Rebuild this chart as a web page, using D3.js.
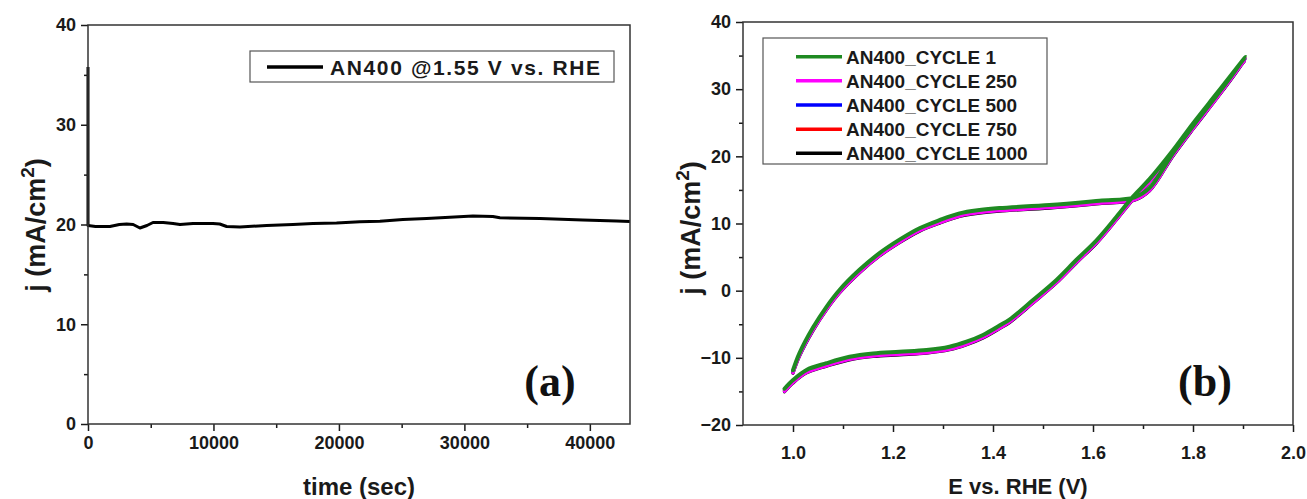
<!DOCTYPE html>
<html><head><meta charset="utf-8">
<script src="https://cdn.jsdelivr.net/npm/d3@7"></script>
<style>
body{margin:0;background:#fff;}
svg{display:block;}
</style>
</head><body>
<svg id="c" width="1307" height="499" font-family="Liberation Sans, Arial, sans-serif"></svg>
<script>
// ---------- Panel (a): chronoamperometry ----------
const stabilityTime = [0, 0, 600, 1750, 2500, 3080, 3600, 4140, 4700, 5180, 6000, 6780, 7330, 8370, 9960, 10500, 11050, 12110, 14240, 16340, 17930, 19810, 21670, 23270, 25100, 26990, 28840, 30680, 32270, 32830, 36020, 39440, 42130, 43200];
const stabilityJ = [35.8, 19.9, 19.8, 19.8, 20.0, 20.05, 20.0, 19.65, 19.9, 20.2, 20.2, 20.1, 20.0, 20.1, 20.1, 20.05, 19.8, 19.75, 19.9, 20.0, 20.1, 20.15, 20.27, 20.33, 20.5, 20.6, 20.73, 20.85, 20.8, 20.67, 20.6, 20.45, 20.35, 20.3];
const stabilityLegend = "AN400 @1.55 V vs. RHE";
const timeTicks = [0, 10000, 20000, 30000, 40000];
const timeMinorTicks = [5000, 15000, 25000, 35000];
const jTicksA = [0, 10, 20, 30, 40];
const jMinorTicksA = [5, 15, 25, 35];

// ---------- Panel (b): cyclic voltammetry ----------
const cvPotential = [0.983, 1.000, 1.027, 1.067, 1.113, 1.160, 1.213, 1.267, 1.313, 1.347, 1.380, 1.413, 1.433, 1.480, 1.527, 1.567, 1.607, 1.647, 1.680, 1.713, 1.760, 1.800, 1.850, 1.905,
  1.850, 1.800, 1.760, 1.713, 1.683, 1.613, 1.513, 1.413, 1.373, 1.333, 1.293, 1.253, 1.213, 1.173, 1.133, 1.093, 1.067, 1.040, 1.013, 1.000];
const cvCycle1 = [-14.6, -13.3, -11.8, -10.8, -9.85, -9.35, -9.1, -8.85, -8.35, -7.6, -6.6, -5.2, -4.3, -1.4, 1.6, 4.6, 7.5, 11.0, 14.0, 16.6, 20.9, 24.9, 29.6, 34.8,
  29.3, 24.5, 20.5, 15.3, 13.9, 13.4, 12.75, 12.3, 12.0, 11.5, 10.5, 9.3, 7.6, 5.6, 3.1, 0.1, -2.4, -5.5, -9.3, -11.85];
const cvCycle250 = [-15.0, -13.7, -12.2, -11.2, -10.25, -9.75, -9.5, -9.25, -8.75, -8.0, -7.0, -5.6, -4.7, -1.8, 1.2, 4.2, 7.1, 10.6, 13.6, 16.2, 20.5, 24.5, 29.2, 34.4,
  28.9, 24.1, 20.1, 14.9, 13.5, 13.0, 12.35, 11.9, 11.6, 11.1, 10.1, 8.9, 7.2, 5.2, 2.7, -0.3, -2.8, -5.9, -9.7, -12.25];
const cvCycle500 = [-14.9, -13.6, -12.1, -11.1, -10.15, -9.65, -9.4, -9.15, -8.65, -7.9, -6.9, -5.5, -4.6, -1.7, 1.3, 4.3, 7.2, 10.7, 13.7, 16.3, 20.6, 24.6, 29.3, 34.5,
  29.0, 24.2, 20.2, 15.0, 13.6, 13.1, 12.45, 12.0, 11.7, 11.2, 10.2, 9.0, 7.3, 5.3, 2.8, -0.2, -2.7, -5.8, -9.6, -12.15];
const cvCycle750 = [-14.85, -13.55, -12.05, -11.05, -10.1, -9.6, -9.35, -9.1, -8.6, -7.85, -6.85, -5.45, -4.55, -1.65, 1.35, 4.35, 7.25, 10.75, 13.75, 16.35, 20.65, 24.65, 29.35, 34.55,
  29.05, 24.25, 20.25, 15.05, 13.65, 13.15, 12.5, 12.05, 11.75, 11.25, 10.25, 9.05, 7.35, 5.35, 2.85, -0.15, -2.65, -5.75, -9.55, -12.1];
const cvCycle1000 = [-15.05, -13.75, -12.25, -11.25, -10.3, -9.8, -9.55, -9.3, -8.8, -8.05, -7.05, -5.65, -4.75, -1.85, 1.15, 4.15, 7.05, 10.55, 13.55, 16.15, 20.45, 24.45, 29.15, 34.35,
  28.85, 24.05, 20.05, 14.85, 13.45, 12.95, 12.3, 11.85, 11.55, 11.05, 10.05, 8.85, 7.15, 5.15, 2.65, -0.35, -2.85, -5.95, -9.75, -12.3];
const cvNames = ["AN400_CYCLE 1", "AN400_CYCLE 250", "AN400_CYCLE 500", "AN400_CYCLE 750", "AN400_CYCLE 1000"];
const cvColors = ["#1f8a22", "#ff00ff", "#0000ff", "#ff0000", "#000000"];
const potentialTicks = [1.0, 1.2, 1.4, 1.6, 1.8, 2.0];
const potentialMinorTicks = [1.1, 1.3, 1.5, 1.7, 1.9];
const jTicksB = [-20, -10, 0, 10, 20, 30, 40];
const jMinorTicksB = [-15, -5, 5, 15, 25, 35];

const svg = d3.select("#c");
const INK = "#1a1a1a";
const SANS = "Liberation Sans, Arial, sans-serif";
const SERIF = "Liberation Serif, Times New Roman, serif";

function axes(g, x, y, xt, xm, yt, ym, xf, yf, xpad) {
  const [x0, x1] = x.range(), [y0, y1] = y.range();
  const bx = g.append("g").attr("transform", `translate(0,${y0})`)
    .call(d3.axisBottom(x).tickValues(xt).tickSize(7).tickPadding(xpad).tickSizeOuter(0).tickFormat(xf));
  const bxm = g.append("g").attr("transform", `translate(0,${y0})`)
    .call(d3.axisBottom(x).tickValues(xm).tickSize(4).tickSizeOuter(0).tickFormat(""));
  const ly = g.append("g").attr("transform", `translate(${x0},0)`)
    .call(d3.axisLeft(y).tickValues(yt).tickSize(7).tickPadding(5).tickSizeOuter(0).tickFormat(yf));
  const lym = g.append("g").attr("transform", `translate(${x0},0)`)
    .call(d3.axisLeft(y).tickValues(ym).tickSize(4).tickSizeOuter(0).tickFormat(""));
  [bx, bxm, ly, lym].forEach(a => {
    a.select(".domain").remove();
    a.selectAll("line").attr("stroke", INK).attr("stroke-width", 1.5);
    a.selectAll("text").attr("font-size", 18).attr("font-weight", "bold").attr("fill", INK)
      .attr("font-family", SANS);
  });
  g.append("rect").attr("x", x0).attr("y", y1).attr("width", x1 - x0).attr("height", y0 - y1)
    .attr("fill", "none").attr("stroke", "#333").attr("stroke-width", 1.5);
}

function yTitle(g, cx, cy) {
  const t = g.append("text").attr("transform", `translate(${cx},${cy}) rotate(-90)`)
    .attr("text-anchor", "middle").attr("font-size", 27).attr("font-weight", "bold").attr("fill", INK)
    .attr("font-family", SANS);
  t.append("tspan").text("j (mA/cm");
  t.append("tspan").attr("dy", -11).attr("font-size", 19).text("2");
  t.append("tspan").attr("dy", 11).text(")");
}

// ---------- Panel (a) ----------
{
  const g = svg.append("g");
  const x = d3.scaleLinear().domain([0, 43200]).range([88, 630]);
  const y = d3.scaleLinear().domain([0, 40]).range([424, 25]);
  const line = d3.line().x(d => x(d[0])).y(d => y(d[1]));
  g.append("path").datum(stabilityTime.map((t, i) => [t, stabilityJ[i]]))
    .attr("d", line).attr("fill", "none").attr("stroke", "#000").attr("stroke-width", 3).attr("stroke-linejoin", "round");
  axes(g, x, y, timeTicks, timeMinorTicks, jTicksA, jMinorTicksA, d3.format("d"), d3.format("d"), 5);
  g.append("rect").attr("x", 250).attr("y", 51).attr("width", 364).attr("height", 31)
    .attr("fill", "#fff").attr("stroke", "#555").attr("stroke-width", 1.2);
  g.append("line").attr("x1", 267).attr("x2", 323).attr("y1", 67).attr("y2", 67).attr("stroke", "#000").attr("stroke-width", 3.5);
  g.append("text").attr("x", 330).attr("y", 74.5).attr("font-size", 21).attr("font-weight", "bold").attr("fill", INK)
    .attr("font-family", SANS).attr("textLength", 270).attr("lengthAdjust", "spacing").text(stabilityLegend);
  g.append("text").attr("x", 359).attr("y", 495).attr("text-anchor", "middle").attr("font-size", 24)
    .attr("font-weight", "bold").attr("fill", INK).attr("font-family", SANS).text("time (sec)");
  yTitle(g, 45, 225);
  g.append("text").attr("x", 550).attr("y", 396).attr("text-anchor", "middle")
    .attr("font-family", SERIF).attr("font-size", 44).attr("font-weight", "bold")
    .attr("fill", "#111").text("(a)");
}

// ---------- Panel (b) ----------
{
  const g = svg.append("g");
  const x = d3.scaleLinear().domain([0.9, 2.0]).range([743, 1293]);
  const y = d3.scaleLinear().domain([-20, 40]).range([425, 22]);
  const series = [cvCycle1, cvCycle250, cvCycle500, cvCycle750, cvCycle1000];
  const line = d3.line().x(d => x(d[0])).y(d => y(d[1])).curve(d3.curveCatmullRom.alpha(0.5));
  for (let k = series.length - 1; k >= 0; k--) {
    g.append("path").datum(cvPotential.map((e, i) => [e, series[k][i]]))
      .attr("d", line).attr("fill", "none").attr("stroke", cvColors[k])
      .attr("stroke-width", k === 0 ? 4 : 3.2).attr("stroke-linejoin", "round").attr("stroke-linecap", "round");
  }
  axes(g, x, y, potentialTicks, potentialMinorTicks, jTicksB, jMinorTicksB, d3.format(".1f"), d3.format("d"), 14);
  g.append("rect").attr("x", 763).attr("y", 38).attr("width", 284).attr("height", 126)
    .attr("fill", "#fff").attr("stroke", "#555").attr("stroke-width", 1.2);
  cvNames.forEach((n, i) => {
    const yy = 56.7 + i * 24.15;
    g.append("line").attr("x1", 796).attr("x2", 842).attr("y1", yy).attr("y2", yy)
      .attr("stroke", cvColors[i]).attr("stroke-width", 3.5);
    g.append("text").attr("x", 846).attr("y", yy + 7).attr("font-size", 19).attr("font-weight", "bold")
      .attr("fill", INK).attr("font-family", SANS).text(n);
  });
  g.append("text").attr("x", 1018).attr("y", 494).attr("text-anchor", "middle").attr("font-size", 22)
    .attr("font-weight", "bold").attr("fill", INK).attr("font-family", SANS).text("E vs. RHE (V)");
  yTitle(g, 700, 228);
  g.append("text").attr("x", 1205).attr("y", 396).attr("text-anchor", "middle")
    .attr("font-family", SERIF).attr("font-size", 44).attr("font-weight", "bold")
    .attr("fill", "#111").text("(b)");
}
</script>
</body></html>
